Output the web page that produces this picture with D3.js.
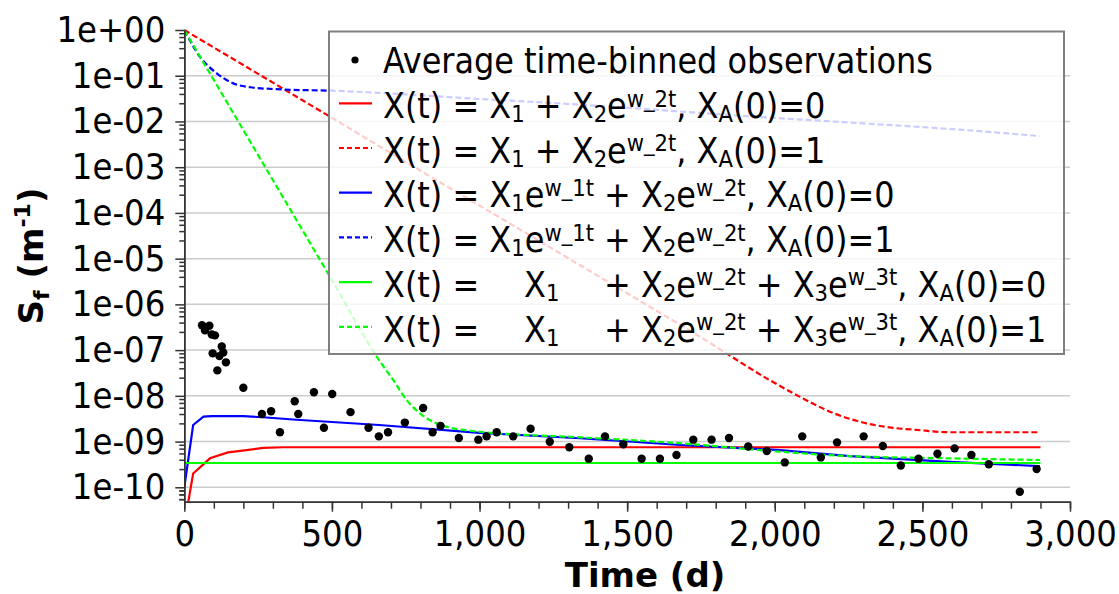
<!DOCTYPE html>
<html>
<head>
<meta charset="utf-8">
<script src="https://cdn.jsdelivr.net/npm/d3@7"></script>
<style>
  body { margin: 0; background: #fff; }
  svg { display: block; }
  text { font-family: "DejaVu Sans Condensed", "DejaVu Sans", sans-serif; font-stretch: condensed; fill: #000; }
  .title { font-family: "DejaVu Sans", sans-serif; font-stretch: normal; font-weight: bold; }
</style>
</head>
<body>
<svg id="chart" width="1119" height="594"></svg>
<script>
// ---- Observations: average time-binned values ----
const obsTime = [60, 85, 70, 93, 104, 127, 96, 132, 119, 141, 112, 200, 263, 294, 324, 374, 386, 439, 473, 501,
  563, 624, 659, 690, 747, 809, 841, 868, 930, 996, 1024, 1058, 1114, 1173, 1238, 1304, 1370, 1425, 1487, 1549,
  1611, 1667, 1724, 1786, 1845, 1910, 1973, 2034, 2093, 2156, 2211, 2301, 2366, 2427, 2487, 2551, 2609, 2666, 2725, 2830, 2887];
const obsValue = [3.5e-7, 3.4e-7, 2.7e-7, 2.2e-7, 2.1e-7, 1.2e-7, 8.5e-8, 8.9e-8, 7.4e-8, 5.4e-8, 3.6e-8, 1.5e-8, 4.0e-9, 4.6e-9, 1.6e-9, 7.6e-9, 4.0e-9, 1.2e-8, 2.0e-9, 1.1e-8,
  4.4e-9, 2.0e-9, 1.3e-9, 1.6e-9, 2.6e-9, 5.4e-9, 1.6e-9, 2.2e-9, 1.2e-9, 1.1e-9, 1.3e-9, 1.6e-9, 1.3e-9, 1.9e-9, 9.9e-10, 7.5e-10, 4.2e-10, 1.3e-9, 8.7e-10, 4.2e-10,
  4.2e-10, 5.1e-10, 1.1e-9, 1.1e-9, 1.2e-9, 7.8e-10, 6.2e-10, 3.5e-10, 1.3e-9, 4.5e-10, 9.6e-10, 1.3e-9, 8.0e-10, 3.0e-10, 4.2e-10, 5.4e-10, 7.1e-10, 5.1e-10, 3.2e-10, 8.0e-11, 2.5e-10];

// ---- Model curves ----
// X(t) = X1 + X2 e^{w_2 t}
const redSolidTime  = [0, 30, 87, 148, 211, 267, 335, 600, 1200, 1800, 2400, 2900];
const redSolidValue = [1.5e-11, 2.0e-10, 4.3e-10, 5.8e-10, 6.5e-10, 7.3e-10, 7.5e-10, 7.5e-10, 7.5e-10, 7.5e-10, 7.5e-10, 7.5e-10];
const redDashTime   = [0, 250, 500, 750, 1000, 1250, 1500, 1750, 1983, 2084, 2198, 2311, 2400, 2480, 2593, 2700, 2898];
const redDashValue  = [1, 0.11, 1.2e-2, 1.3e-3, 1.45e-4, 1.6e-5, 1.75e-6, 1.9e-7, 2.2e-8, 9.6e-9, 4.2e-9, 2.5e-9, 2.0e-9, 1.8e-9, 1.6e-9, 1.6e-9, 1.6e-9];

// X(t) = X1 e^{w_1 t} + X2 e^{w_2 t}
const blueSolidTime  = [0, 30, 65, 93, 200, 266, 380, 660, 1000, 1340, 1680, 2017, 2254, 2593, 2898];
const blueSolidValue = [1e-10, 2.3e-9, 3.5e-9, 3.6e-9, 3.6e-9, 3.4e-9, 3.0e-9, 2.3e-9, 1.55e-9, 1.18e-9, 8.4e-10, 6.5e-10, 4.8e-10, 3.6e-10, 2.9e-10];
const blueDashTime   = [0, 53, 110, 166, 223, 336, 504, 750, 1000, 1170, 1500, 1848, 2250, 2600, 2897];
const blueDashValue  = [1, 0.26, 0.113, 0.068, 0.056, 0.050, 0.047, 0.039, 0.031, 0.027, 0.020, 0.0138, 0.0095, 0.0068, 0.0048];

// X(t) = X1 + X2 e^{w_2 t} + X3 e^{w_3 t}
const greenSolidTime  = [0, 2900];
const greenSolidValue = [3.4e-10, 3.4e-10];
const greenDashTime   = [0, 250, 500, 663, 708, 753, 798, 843, 889, 1001, 1340, 1679, 2017, 2254, 2593, 2898];
const greenDashValue  = [1, 1.84e-3, 3.4e-6, 5.6e-8, 2.2e-8, 8.1e-9, 4.15e-9, 2.7e-9, 2.1e-9, 1.64e-9, 1.24e-9, 9.2e-10, 6.0e-10, 4.8e-10, 4.3e-10, 3.95e-10];

// ---- Axes ----
const xMajorTicks = [0, 500, 1000, 1500, 2000, 2500, 3000];
const yMajorTicks = [1, 1e-1, 1e-2, 1e-3, 1e-4, 1e-5, 1e-6, 1e-7, 1e-8, 1e-9, 1e-10];
const yTickLabels = ["1e+00", "1e-01", "1e-02", "1e-03", "1e-04", "1e-05", "1e-06", "1e-07", "1e-08", "1e-09", "1e-10"];
const yMinorMultiples = [2.5, 4, 5.5, 7, 8.5];

// ---- Legend rows (rich text segments: s = "sub" | "sup") ----
const legendRows = [
  { kind: "dot", segs: [{ t: "Average time-binned observations" }] },
  { kind: "line", color: "#ff0000", dash: null, segs: [{ t: "X(t) = X" }, { t: "1", s: "sub" }, { t: " + X" }, { t: "2", s: "sub" }, { t: "e" }, { t: "w_2t", s: "sup" }, { t: ", X" }, { t: "A", s: "sub" }, { t: "(0)=0" }] },
  { kind: "line", color: "#ff0000", dash: "5,3", segs: [{ t: "X(t) = X" }, { t: "1", s: "sub" }, { t: " + X" }, { t: "2", s: "sub" }, { t: "e" }, { t: "w_2t", s: "sup" }, { t: ", X" }, { t: "A", s: "sub" }, { t: "(0)=1" }] },
  { kind: "line", color: "#0000ff", dash: null, segs: [{ t: "X(t) = " }, { t: "X", key: "x1" }, { t: "1", s: "sub" }, { t: "e" }, { t: "w_1t", s: "sup" }, { t: " + X", key: "plus" }, { t: "2", s: "sub" }, { t: "e" }, { t: "w_2t", s: "sup" }, { t: ", X" }, { t: "A", s: "sub" }, { t: "(0)=0" }] },
  { kind: "line", color: "#0000ff", dash: "5,3", segs: [{ t: "X(t) = X" }, { t: "1", s: "sub" }, { t: "e" }, { t: "w_1t", s: "sup" }, { t: " + X" }, { t: "2", s: "sub" }, { t: "e" }, { t: "w_2t", s: "sup" }, { t: ", X" }, { t: "A", s: "sub" }, { t: "(0)=1" }] },
  { kind: "line", color: "#00ff00", dash: null, segs: [{ t: "X(t) = " }, { t: "X", key: "x1" }, { t: "1", s: "sub" }, { t: " + X", key: "plus" }, { t: "2", s: "sub" }, { t: "e" }, { t: "w_2t", s: "sup" }, { t: " + X" }, { t: "3", s: "sub" }, { t: "e" }, { t: "w_3t", s: "sup" }, { t: ", X" }, { t: "A", s: "sub" }, { t: "(0)=0" }] },
  { kind: "line", color: "#00ff00", dash: "5,3", segs: [{ t: "X(t) = " }, { t: "X", key: "x1" }, { t: "1", s: "sub" }, { t: " + X", key: "plus" }, { t: "2", s: "sub" }, { t: "e" }, { t: "w_2t", s: "sup" }, { t: " + X" }, { t: "3", s: "sub" }, { t: "e" }, { t: "w_3t", s: "sup" }, { t: ", X" }, { t: "A", s: "sub" }, { t: "(0)=1" }] }
];

const series = [
  { t: redSolidTime,   v: redSolidValue,   color: "#ff0000", dash: null },
  { t: blueSolidTime,  v: blueSolidValue,  color: "#0000ff", dash: null },
  { t: greenSolidTime, v: greenSolidValue, color: "#00ff00", dash: null },
  { t: redDashTime,    v: redDashValue,    color: "#ff0000", dash: "6,3" },
  { t: blueDashTime,   v: blueDashValue,   color: "#0000ff", dash: "6,3" },
  { t: greenDashTime,  v: greenDashValue,  color: "#00ff00", dash: "6,3" }
];

// ---- Layout ----
const plot = { left: 184.3, right: 1070, top: 30, bottom: 501.7 };
const svg = d3.select("#chart");

const x = d3.scaleLinear().domain([0, 3000]).range([plot.left, plot.right]);
const y = d3.scaleLog().domain([4.84e-11, 1]).range([plot.bottom, plot.top]);

// Horizontal grid at each decade
svg.append("g")
  .selectAll("line")
  .data(yMajorTicks.filter(d => d < 1))
  .join("line")
  .attr("x1", plot.left).attr("x2", plot.right)
  .attr("y1", d => y(d)).attr("y2", d => y(d))
  .attr("stroke", "#cccccc").attr("stroke-width", 1.5);

svg.append("defs").append("clipPath").attr("id", "plotClip")
  .append("rect")
  .attr("x", plot.left).attr("y", plot.top - 2)
  .attr("width", plot.right - plot.left).attr("height", plot.bottom - plot.top + 2);

// Model curves: solid fits as sampled polylines, dashed fits smoothed
const polyline = d3.line().x(d => x(d[0])).y(d => y(d[1]));
const smooth = d3.line().x(d => x(d[0])).y(d => y(d[1])).curve(d3.curveMonotoneX);
const curves = svg.append("g").attr("clip-path", "url(#plotClip)");
series.forEach(s => {
  curves.append("path")
    .datum(s.t.map((t, i) => [t, s.v[i]]))
    .attr("d", s.dash ? smooth : polyline)
    .attr("fill", "none")
    .attr("stroke", s.color)
    .attr("stroke-width", 2.2)
    .attr("stroke-dasharray", s.dash);
});

// Observations
svg.append("g")
  .selectAll("circle")
  .data(obsTime.map((t, i) => [t, obsValue[i]]))
  .join("circle")
  .attr("cx", d => x(d[0]))
  .attr("cy", d => y(d[1]))
  .attr("r", 4.2)
  .attr("fill", "#000");

// Axes
const yMinor = [];
yMajorTicks.forEach(d => yMinorMultiples.forEach(m => {
  const v = d * m / 10;
  if (v >= y.domain()[0] && v < 1) yMinor.push(v);
}));
yMinorMultiples.forEach(m => { const v = 1e-11 * m; if (v >= y.domain()[0]) yMinor.push(v); });

function styleAxis(g) {
  g.select(".domain").attr("stroke", "#333").attr("stroke-width", 1.5);
  g.selectAll(".tick line").attr("stroke", "#333").attr("stroke-width", 1.5);
  g.selectAll(".tick text").attr("font-size", 36).attr("font-family", null).attr("fill", "#000");
}

svg.append("g")
  .attr("transform", `translate(${plot.left},0)`)
  .call(d3.axisLeft(y).tickValues(yMinor).tickSize(5).tickFormat("").tickSizeOuter(0))
  .call(styleAxis);
svg.append("g")
  .attr("transform", `translate(${plot.left},0)`)
  .call(d3.axisLeft(y).tickValues(yMajorTicks).tickSize(9).tickPadding(10)
    .tickFormat((d, i) => yTickLabels[i]).tickSizeOuter(0))
  .call(styleAxis);

const xMinor = d3.range(0, 3001, 100);
svg.append("g")
  .attr("transform", `translate(0,${plot.bottom})`)
  .call(d3.axisBottom(x).tickValues(xMinor).tickSize(7).tickFormat("").tickSizeOuter(0))
  .call(styleAxis);
svg.append("g")
  .attr("transform", `translate(0,${plot.bottom})`)
  .call(d3.axisBottom(x).tickValues(xMajorTicks).tickSize(10).tickPadding(9)
    .tickFormat(d3.format(",")).tickSizeOuter(0))
  .call(styleAxis);

// Rich text helper: sub/superscripts via baseline offsets
function richText(textSel, segs, subDy, supDy, smallSize) {
  let cur = 0;
  segs.forEach(seg => {
    const target = seg.s === "sub" ? subDy : seg.s === "sup" ? supDy : 0;
    const ts = textSel.append("tspan").attr("dy", target - cur).text(seg.t);
    if (seg.s) ts.attr("font-size", smallSize);
    cur = target;
    seg.node = ts.node();
  });
}

// Axis titles
svg.append("text").attr("class", "title")
  .attr("x", 645).attr("y", 586.7)
  .attr("text-anchor", "middle").attr("font-size", 34)
  .text("Time (d)");

const yTitle = svg.append("text").attr("class", "title")
  .attr("transform", "translate(43,256) rotate(-90)")
  .attr("text-anchor", "middle").attr("font-size", 34);
richText(yTitle, [{ t: "S" }, { t: "f", s: "sub" }, { t: " (m" }, { t: "-1", s: "sup" }, { t: ")" }], 6, -13, 22);

// Legend
const legend = svg.append("g");
legend.append("rect")
  .attr("x", 329).attr("y", 31.5).attr("width", 735).attr("height", 322.5)
  .attr("fill", "#fff").attr("fill-opacity", 0.8)
  .attr("stroke", "#808080").attr("stroke-width", 2);

const legendFont = 35.5;
legendRows.forEach((row, i) => {
  const base = 73.3 + i * 44.7;
  if (row.kind === "dot") {
    legend.append("circle").attr("cx", 355).attr("cy", base - 13.3).attr("r", 3.6).attr("fill", "#000");
  } else {
    legend.append("line")
      .attr("x1", 339).attr("x2", 372).attr("y1", base - 14.7).attr("y2", base - 14.7)
      .attr("stroke", row.color).attr("stroke-width", 2.2)
      .attr("stroke-dasharray", row.dash);
  }
  const t = legend.append("text").attr("x", 383).attr("y", base).attr("font-size", legendFont);
  richText(t, row.segs, 4, -11.5, 23.5);
});

// Align the X1 term of the three-exponential rows under the blue-row terms
const ref = legendRows[3].segs;
const refX1 = ref.find(s => s.key === "x1").node.getStartPositionOfChar(0).x;
const refPlus = ref.find(s => s.key === "plus").node.getStartPositionOfChar(0).x;
[5, 6].forEach(r => {
  const segs = legendRows[r].segs;
  const xi = segs.findIndex(s => s.key === "x1");
  const w = segs[xi].node.getComputedTextLength() + segs[xi + 1].node.getComputedTextLength();
  d3.select(segs[xi].node).attr("x", (refX1 + refPlus) / 2 - w / 2);
  d3.select(segs.find(s => s.key === "plus").node).attr("x", refPlus);
});
</script>
</body>
</html>
